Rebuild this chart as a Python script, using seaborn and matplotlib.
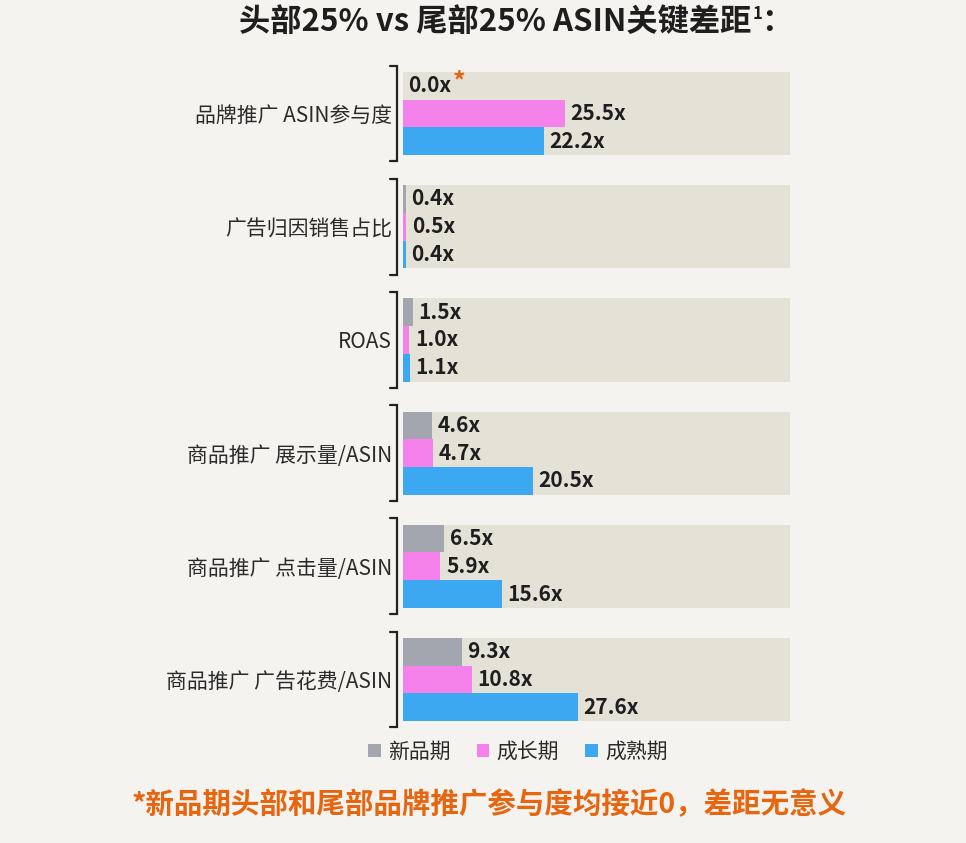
import matplotlib
matplotlib.use("Agg")
import matplotlib.pyplot as plt
from matplotlib.patches import Patch
import seaborn as sns
import pandas as pd

categories = ["品牌推广 ASIN参与度", "广告归因销售占比", "ROAS",
              "商品推广 展示量/ASIN", "商品推广 点击量/ASIN", "商品推广 广告花费/ASIN"]
stages = ["新品期", "成长期", "成熟期"]
new_stage = [0.0, 0.4, 1.5, 4.6, 6.5, 9.3]
growth_stage = [25.5, 0.5, 1.0, 4.7, 5.9, 10.8]
mature_stage = [22.2, 0.4, 1.1, 20.5, 15.6, 27.6]

colors = ["#A3A6AE", "#F482EA", "#3DA8F2"]
bg_color = "#F4F3EF"
band_color = "#E4E2D7"
text_color = "#1E1E1E"
orange = "#E8650F"

df = pd.DataFrame({
    "category": categories * 3,
    "stage": [s for s in stages for _ in categories],
    "value": new_stage + growth_stage + mature_stage,
})

sns.set_theme(style="white")
plt.rcParams["font.family"] = ["Noto Sans CJK SC", "DejaVu Sans"]

fig = plt.figure(figsize=(9.66, 8.43), dpi=100, facecolor=bg_color)
ax = fig.add_axes([0.4172, 0.1268, 0.4006, 0.8057])
ax.set_facecolor(bg_color)

group_h = 0.735
sns.barplot(data=df, y="category", x="value", hue="stage", orient="h",
            palette=colors, width=group_h, saturation=1, legend=False,
            order=categories, hue_order=stages, linewidth=0, ax=ax)

xmax = 61
ax.set_xlim(0, xmax)
ax.set_ylim(len(categories) - 0.5, -0.5)

labels = []
for cont in ax.containers:
    labels.append(ax.bar_label(cont, fmt=lambda v: f"{v:.1f}x", padding=4,
                               fontsize=15, fontweight="bold", color=text_color))

# asterisk on the 0.0x label
ax.annotate("*", xy=(1, 1), xycoords=labels[0][0], xytext=(0.5, 4),
            textcoords="offset points", ha="left", va="top",
            fontsize=18, fontweight="bold", color=orange)

# background bands
ax.barh(range(len(categories)), [xmax] * len(categories), height=group_h,
        color=band_color, zorder=0, linewidth=0)

# brackets
trans = ax.get_yaxis_transform()
half = group_h / 2 + 0.055
for i in range(len(categories)):
    ax.plot([-0.034, -0.015, -0.015, -0.034], [i - half, i - half, i + half, i + half],
            transform=trans, color="#222222", lw=1.6, clip_on=False,
            solid_joinstyle="miter")

sns.despine(ax=ax, left=True, bottom=True)
ax.set_xlabel("")
ax.set_ylabel("")
ax.set_xticks([])
ax.tick_params(axis="y", length=0, pad=8, labelsize=15, labelcolor="#2A2A2A")

# title with superscript
t = fig.text(0.513, 0.974, "头部25% vs 尾部25% ASIN关键差距", ha="center", va="center",
             fontsize=22.5, fontweight="bold", color=text_color)
ax.annotate("1", xy=(1, 1), xycoords=t, xytext=(0.5, 1), textcoords="offset points",
            ha="left", va="top", fontsize=12, fontweight="bold", color=text_color,
            annotation_clip=False)
ax.annotate("：", xy=(1, 0), xycoords=t, xytext=(7, 0), textcoords="offset points",
            ha="left", va="bottom", fontsize=22.5, fontweight="bold", color=text_color,
            annotation_clip=False)

handles = [Patch(facecolor=c, edgecolor="none", label=s) for c, s in zip(colors, stages)]
fig.legend(handles=handles, loc="center", bbox_to_anchor=(0.536, 0.108), ncol=3,
           frameon=False, fontsize=15, handlelength=0.6, handleheight=0.6,
           handletextpad=0.35, columnspacing=1.25, labelcolor="#2A2A2A")

fig.text(0.506, 0.045, "*新品期头部和尾部品牌推广参与度均接近0，差距无意义",
         ha="center", va="center", fontsize=20.5, fontweight="bold", color=orange)

fig.savefig("out.png", dpi=100, facecolor=bg_color)
